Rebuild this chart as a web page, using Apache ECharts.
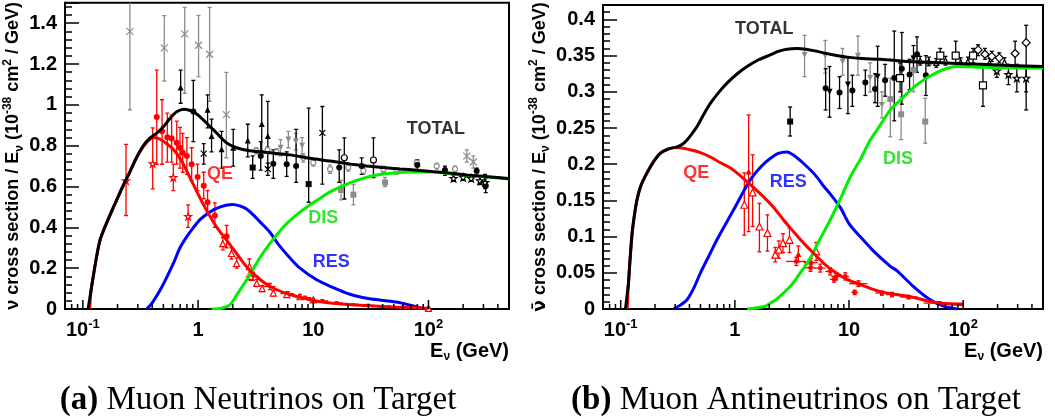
<!DOCTYPE html>
<html>
<head>
<meta charset="utf-8">
<script src="https://cdn.jsdelivr.net/npm/echarts@6/dist/echarts.min.js"></script>
<style>
  html, body { margin: 0; padding: 0; background: #ffffff; }
  #chart { width: 1055px; height: 419px; }
</style>
</head>
<body>
<div id="chart"></div>
<script>
// ---- shared energy axis (GeV, log scale) ----
const xMin = 0.07;
const xMax = 500;
const xMajorTicks = [0.1, 1, 10, 100];
const xMinorTicks = [0.08, 0.09, 0.2, 0.3, 0.4, 0.5, 0.6, 0.7, 0.8, 0.9,
  2, 3, 4, 5, 6, 7, 8, 9, 20, 30, 40, 50, 60, 70, 80, 90, 200, 300, 400];

// ---- neutrino panel: model curves, [E, sigma/E] ----
const nuTotal = [[0.111,0],[0.117,0.08],[0.123,0.158],[0.131,0.25],[0.141,0.337],[0.155,0.40],
  [0.172,0.46],[0.197,0.535],[0.224,0.605],[0.256,0.672],[0.293,0.742],[0.335,0.80],[0.383,0.838],
  [0.438,0.862],[0.50,0.893],[0.57,0.933],[0.653,0.966],[0.755,0.979],[0.881,0.97],[1.0,0.95],
  [1.19,0.91],[1.45,0.862],[1.77,0.814],[2.16,0.79],[2.82,0.775],[4.22,0.765],[6.28,0.755],
  [9.37,0.738],[14,0.725],[20.5,0.711],[29,0.701],[40,0.693],[56.6,0.686],[80,0.68],[110,0.673],
  [150,0.666],[215,0.657],[300,0.65],[400,0.644],[500,0.639]];
const nuQE = [[0.115,0],[0.117,0.08],[0.123,0.158],[0.131,0.25],[0.141,0.337],[0.155,0.40],
  [0.172,0.46],[0.197,0.535],[0.224,0.605],[0.256,0.672],[0.293,0.742],[0.335,0.795],[0.37,0.825],
  [0.409,0.84],[0.45,0.836],[0.50,0.822],[0.61,0.782],[0.72,0.725],[0.851,0.644],[1.0,0.563],
  [1.19,0.482],[1.45,0.401],[1.77,0.337],[2.16,0.272],[2.64,0.207],[3.23,0.158],[4.22,0.11],
  [5.88,0.076],[9.37,0.045],[14,0.029],[20,0.022],[29,0.017],[45,0.011],[65,0.007],[100,0.004]];
const nuRES = [[0.358,0],[0.40,0.03],[0.47,0.094],[0.54,0.16],[0.61,0.223],[0.697,0.30],[0.80,0.355],
  [0.90,0.395],[1.05,0.44],[1.25,0.473],[1.45,0.493],[1.75,0.508],[2.0,0.512],[2.3,0.505],[2.64,0.49],
  [3.0,0.462],[3.45,0.427],[4.22,0.375],[5.0,0.315],[6.28,0.25],[7.67,0.2],[10.7,0.143],[14.9,0.105],
  [20.8,0.072],[29,0.053],[40.6,0.042],[56.6,0.031],[74,0.015],[90,0.002]];
const nuDIS = [[1.31,0],[1.6,0.004],[1.89,0.02],[2.16,0.068],[2.45,0.115],[2.82,0.168],[3.2,0.222],
  [3.6,0.268],[4.2,0.32],[4.8,0.362],[5.8,0.415],[7.2,0.462],[8.8,0.5],[10.7,0.531],[14,0.574],
  [20.8,0.618],[27,0.64],[35.6,0.656],[50,0.666],[70,0.671],[100,0.671],[150,0.664],[215,0.655],
  [300,0.648],[400,0.642],[500,0.637]];

// ---- neutrino panel: measurements, [E, value, low, high, (E low, E high)] ----
const nuGrayCross = [[0.256,1.36,0.976,1.6],[0.509,1.279,1.117,1.437],[0.766,1.348,1.057,1.478],
  [1.01,1.292,1.138,1.438],[1.26,1.248,1.017,1.478],[1.76,0.952,0.741,1.159],
  [215,0.749,0.72,0.78,170,275],[245,0.72,0.69,0.75,200,300]];
const nuGrayTriDown = [[5.2,0.79,0.75,0.83],[6.08,0.83,0.79,0.87],[7.06,0.82,0.78,0.86],[8.0,0.80,0.76,0.84]];
const nuGraySquare = [[17.4,0.583,0.535,0.63],[22.3,0.56,0.51,0.61],[42,0.62,0.60,0.645]];
const nuGrayOpen = [[3.2,0.775,0.76,0.79],[4.0,0.78,0.765,0.795],[4.8,0.77,0.755,0.785],
  [8.2,0.741,0.72,0.76],[10,0.717,0.70,0.735],[14,0.685,0.665,0.705],[20.1,0.693,0.675,0.71],
  [27.2,0.677,0.66,0.695],[40.6,0.685,0.67,0.70],[53,0.677,0.66,0.69],[79,0.717,0.70,0.73],
  [118,0.70,0.685,0.715],[170,0.686,0.67,0.70]];
const nuBlackTri = [[0.706,1.085,1.008,1.170],[1.21,0.976,0.887,1.049],[1.31,0.847,0.77,0.93],
  [1.60,0.782,0.69,0.87],[2.02,0.79,0.70,0.88],[2.70,0.826,0.745,0.905],[3.57,0.906,0.774,1.049],
  [4.03,0.847,0.693,1.017]];
const nuBlackCircle = [[0.91,0.968,0.82,1.12],[3.5,0.749,0.68,0.82],[4.5,0.712,0.64,0.78],
  [5.88,0.709,0.65,0.77],[7.1,0.70,0.62,0.88],[16.8,0.693,0.62,0.78],[26.3,0.70,0.66,0.74],
  [80,0.706,0.68,0.73],[139,0.681,0.655,0.70],[262,0.676,0.65,0.69],[314,0.604,0.57,0.64]];
const nuBlackSquare = [[2.98,0.693,0.64,0.75],[9.12,0.612,0.523,0.984]];
const nuBlackCross = [[1.12,0.761,0.71,0.81],[4.03,0.685,0.655,0.715],[12,0.863,0.612,0.992]];
const nuBlackOpen = [[18.6,0.741,0.539,0.838],[33.3,0.73,0.644,0.838]];
const nuBlackStar = [[165,0.64,0.625,0.655],[200,0.645,0.63,0.66],[235,0.64,0.625,0.655],
  [280,0.628,0.61,0.645],[310,0.62,0.59,0.66]];
const nuRedCircle = [[0.438,0.94,0.709,1.17],[0.487,0.871,0.709,1.025],[0.541,0.842,0.72,0.96],
  [0.59,0.835,0.72,0.95],[0.653,0.814,0.71,0.92],[0.697,0.79,0.69,0.89],[0.736,0.765,0.67,0.86],
  [0.80,0.749,0.66,0.84],[0.88,0.709,0.63,0.79],[0.99,0.647,0.58,0.71],[1.12,0.604,0.54,0.67],
  [1.21,0.523,0.47,0.58],[1.40,0.458,0.40,0.52],[1.77,0.356,0.30,0.41]];
const nuRedStar = [[0.237,0.628,0.458,0.806],[0.404,0.712,0.588,0.887],[0.61,0.644,0.58,0.71],
  [0.82,0.453,0.40,0.51]];
const nuRedTri = [[1.64,0.32,0.29,0.35],[1.95,0.272,0.245,0.30],[2.16,0.223,0.20,0.25],
  [2.79,0.207,0.17,0.245],[2.85,0.16,0.14,0.18],[3.23,0.126,0.11,0.145],[3.6,0.1,0.085,0.115],
  [4.5,0.078,0.065,0.09],[5.9,0.07,0.06,0.08],[7.67,0.06,0.05,0.07],[10,0.045,0.038,0.052],
  [100,0.003,0.001,0.005]];
const nuRedCross = [[3.0,0.16,0.14,0.18,2.6,3.4],[4.2,0.11,0.095,0.125,3.7,4.7],[6,0.075,0.065,0.085,5.2,6.8],
  [8.5,0.055,0.047,0.063,7.4,9.6],[12,0.04,0.034,0.046,10.5,13.5],[16,0.03,0.025,0.035,14,18],
  [22,0.022,0.018,0.026,19,25],[30,0.018,0.014,0.022,26,34],[45,0.012,0.009,0.015,40,50],
  [60,0.009,0.006,0.012,52,68],[80,0.006,0.004,0.008,70,90]];

// ---- antineutrino panel: model curves ----
const nubTotal = [[0.110,0],[0.113,0.015],[0.117,0.036],[0.121,0.07],[0.126,0.105],[0.132,0.13],
  [0.139,0.151],[0.150,0.17],[0.170,0.188],[0.195,0.204],[0.222,0.215],[0.26,0.221],[0.311,0.224],
  [0.35,0.228],[0.381,0.2335],[0.42,0.242],[0.466,0.252],[0.53,0.268],[0.61,0.284],[0.72,0.299],
  [0.853,0.312],[1.05,0.325],[1.28,0.335],[1.6,0.344],[2.04,0.351],[2.4,0.356],[2.86,0.359],
  [3.5,0.360],[4.2,0.359],[4.89,0.357],[6.84,0.352],[9.6,0.348],[13,0.346],[18.8,0.345],
  [36.7,0.3415],[100,0.339],[200,0.337],[500,0.335]];
const nubQE = [[0.114,0],[0.117,0.036],[0.121,0.07],[0.126,0.105],[0.132,0.13],[0.139,0.151],
  [0.150,0.17],[0.170,0.188],[0.195,0.204],[0.222,0.215],[0.26,0.221],[0.311,0.223],[0.406,0.22],
  [0.5,0.216],[0.61,0.21],[0.75,0.202],[0.91,0.195],[1.08,0.186],[1.28,0.176],[1.5,0.166],
  [1.78,0.155],[2.2,0.14],[2.67,0.123],[3.3,0.106],[4.0,0.091],[4.9,0.077],[5.98,0.0635],
  [7.5,0.051],[9.6,0.041],[13,0.033],[18.8,0.024],[26,0.02],[36.7,0.016],[58.9,0.0085],[100,0.006]];
const nubRES = [[0.29,0],[0.33,0.005],[0.381,0.0128],[0.44,0.03],[0.50,0.05],[0.60,0.075],
  [0.697,0.0956],[0.975,0.137],[1.36,0.178],[1.7,0.197],[2.04,0.208],[2.4,0.215],[2.86,0.217],
  [3.3,0.212],[4.0,0.201],[5.0,0.186],[5.98,0.17],[7.0,0.157],[8.4,0.14],[10,0.118],[11.7,0.105],
  [13.4,0.095],[16.4,0.08],[23,0.059],[26.2,0.053],[36.7,0.031],[51.4,0.0128],[67.3,0.004],[88,0]];
const nubDIS = [[1.28,0],[1.78,0.003],[2.04,0.008],[2.34,0.014],[3.05,0.031],[3.6,0.046],[4.57,0.07],
  [5.5,0.095],[6.84,0.123],[8.4,0.152],[10.3,0.183],[12.5,0.206],[15.3,0.233],[17.5,0.247],
  [23,0.275],[26.2,0.284],[39.4,0.31],[58.9,0.327],[88,0.335],[150,0.334],[300,0.333],[500,0.333]];

// ---- antineutrino panel: measurements ----
const nubGrayTriDown = [[4.08,0.351,0.321,0.378],[6.19,0.350,0.326,0.371],[8.78,0.342,0.323,0.36],
  [11.97,0.350,0.323,0.377],[15.3,0.319,0.30,0.34],[19.4,0.282,0.264,0.30]];
const nubGraySquare = [[23,0.29,0.238,0.319],[28.6,0.269,0.234,0.293],[36.7,0.33,0.30,0.35],
  [46.5,0.259,0.229,0.291]];
const nubBlackCircle = [[6.24,0.305,0.275,0.332],[8.26,0.299,0.277,0.321],[10.7,0.302,0.28,0.323],
  [13.9,0.313,0.295,0.33],[16.9,0.304,0.285,0.325],[20.7,0.316,0.294,0.338],[24.9,0.319,0.26,0.384],
  [29,0.332,0.283,0.382],[33.9,0.324,0.303,0.345],[39.4,0.352,0.327,0.376],[47.1,0.323,0.295,0.35]];
const nubBlackTriDown = [[6.75,0.300,0.265,0.335],[9.78,0.310,0.27,0.348],[17.8,0.321,0.28,0.363],
  [36.7,0.346,0.328,0.364]];
const nubBlackSquare = [[3.05,0.259,0.239,0.279]];
const nubOpenSquare = [[28,0.319,0.30,0.34],[63,0.35,0.34,0.36],[86,0.35,0.335,0.37],
  [122,0.35,0.34,0.36],[149,0.309,0.28,0.335]];
const nubOpenDiamond = [[135,0.358,0.35,0.365],[155,0.352,0.345,0.36],[178,0.349,0.342,0.356],
  [207,0.347,0.34,0.354],[285,0.353,0.335,0.37],[356,0.368,0.275,0.392]];
const nubOpenStar = [[197,0.329,0.32,0.338],[249,0.324,0.31,0.338],[295,0.319,0.30,0.338],
  [356,0.319,0.30,0.335]];
const nubOpenTri = [[42,0.343,0.337,0.349],[50,0.342,0.336,0.348],[58,0.34,0.334,0.346],
  [70,0.343,0.337,0.349],[95,0.341,0.335,0.347],[110,0.342,0.336,0.348],[170,0.34,0.334,0.346],
  [230,0.341,0.335,0.347]];
const nubRedTriOpen = [[1.21,0.144,0.102,0.188],[1.43,0.161,0.114,0.213],[1.64,0.114,0.079,0.146],
  [1.93,0.105,0.08,0.13],[2.26,0.075,0.065,0.085],[2.43,0.082,0.07,0.094],[2.64,0.091,0.078,0.104],
  [3.01,0.0956,0.078,0.112],[5.16,0.0795,0.067,0.092]];
const nubRedTri = [[1.32,0.19,0.107,0.268],[3.6,0.076,0.065,0.087]];
const nubRedSquare = [[3.45,0.0657,0.06,0.071,2.8,4.2],[4.64,0.064,0.058,0.07,4.0,5.3],
  [4.6,0.057,0.052,0.062,4.1,5.1],[5.6,0.0565,0.051,0.062,5.0,6.2],[6.84,0.052,0.047,0.057,6.2,7.5],
  [7.73,0.045,0.04,0.05,7.0,8.5],[7.4,0.041,0.037,0.045,6.8,8.0],[9.27,0.045,0.04,0.05,8.5,10],
  [12.1,0.035,0.031,0.039,10,14.5],[11.2,0.023,0.02,0.026,10.5,12],[19.4,0.022,0.019,0.025,17,22],
  [23.8,0.02,0.017,0.023,21,27],[33.2,0.0165,0.014,0.019,28,40],[62,0.008,0.006,0.01,45,100]];

// ---- in-plot annotations [E, value, text, colour] ----
const nuTags = [[116, 0.88, 'TOTAL', '#000000'], [1.55, 0.662, 'QE', '#ff0000'],
  [12.2, 0.448, 'DIS', '#00dd00'], [14.3, 0.23, 'RES', '#0000ff']];
const nubTags = [[1.81, 0.3866, 'TOTAL', '#000000'], [0.459, 0.188, 'QE', '#ff0000'],
  [2.94, 0.1756, 'RES', '#0000ff'], [26.9, 0.2073, 'DIS', '#00dd00']];

// ---------------------------------------------------------------
const SANS = '"Liberation Sans", Arial, Helvetica, sans-serif';
const SERIF = '"Liberation Serif", "Times New Roman", serif';
const GRAY = '#8c8c8c';
const RED = '#ff0000';

const starPath = 'path://M5,0L6.2,3.6L10,3.6L7,5.9L8.1,9.6L5,7.3L1.9,9.6L3,5.9L0,3.6L3.8,3.6Z';
const crossPath = 'path://M0,0L10,10M10,0L0,10';

function errorBars(data, color, gi) {
  return {
    type: 'custom', xAxisIndex: gi, yAxisIndex: gi, clip: true, silent: true, z: 2,
    encode: { x: 0, y: 1 },
    data: data,
    renderItem: function (params, api) {
      const x = api.value(0), lo = api.value(2), hi = api.value(3);
      const xl = api.value(4), xh = api.value(5);
      const a = api.coord([x, lo]), b = api.coord([x, hi]);
      const st = { stroke: color, lineWidth: 1.3 };
      const cap = 2;
      const ch = [
        { type: 'line', shape: { x1: a[0], y1: a[1], x2: b[0], y2: b[1] }, style: st },
        { type: 'line', shape: { x1: a[0] - cap, y1: a[1], x2: a[0] + cap, y2: a[1] }, style: st },
        { type: 'line', shape: { x1: b[0] - cap, y1: b[1], x2: b[0] + cap, y2: b[1] }, style: st }
      ];
      if (isFinite(xl) && isFinite(xh) && xl > 0 && xh > 0) {
        const y = api.value(1);
        const l = api.coord([xl, y]), r = api.coord([xh, y]);
        ch.push({ type: 'line', shape: { x1: l[0], y1: l[1], x2: r[0], y2: r[1] }, style: st });
      }
      return { type: 'group', children: ch };
    }
  };
}

function markers(data, color, symbol, open, gi, size, rotate) {
  return {
    type: 'scatter', xAxisIndex: gi, yAxisIndex: gi, silent: true, z: 3,
    symbol: symbol, symbolSize: size || 6, symbolRotate: rotate || 0,
    data: data.map(function (d) { return [d[0], d[1]]; }),
    itemStyle: open
      ? { color: symbol === crossPath ? 'rgba(0,0,0,0)' : '#ffffff', borderColor: color, borderWidth: 1.2, opacity: 1 }
      : { color: color, borderWidth: 0, opacity: 1 }
  };
}

function group(data, color, symbol, open, gi, size, rotate) {
  return [errorBars(data, color, gi), markers(data, color, symbol, open, gi, size, rotate)];
}

function curve(data, color, gi, z) {
  return {
    type: 'line', xAxisIndex: gi, yAxisIndex: gi, data: data, showSymbol: false, silent: true,
    smooth: 0.3, clip: true, z: z,
    lineStyle: { color: color, width: 3 }
  };
}

function xTicks(gi) {
  const d = xMajorTicks.map(function (v) { return [v, 1]; })
    .concat(xMinorTicks.map(function (v) { return [v, 0]; }));
  return {
    type: 'custom', xAxisIndex: gi, yAxisIndex: gi, silent: true, z: 6, clip: false,
    encode: { x: 0 },
    data: d,
    renderItem: function (params, api) {
      const p = api.coord([api.value(0), 0]);
      const len = api.value(1) === 1 ? 9 : 5;
      return { type: 'line', shape: { x1: p[0], y1: p[1], x2: p[0], y2: p[1] - len },
        style: { stroke: '#000', lineWidth: 1.5 } };
    }
  };
}

function tags(list, gi) {
  return list.map(function (t) {
    return {
      type: 'scatter', xAxisIndex: gi, yAxisIndex: gi, silent: true, z: 8,
      symbolSize: 1, itemStyle: { color: 'rgba(0,0,0,0)' },
      data: [[t[0], t[1]]],
      label: { show: true, position: 'inside', formatter: t[2], color: t[3],
        fontFamily: SANS, fontWeight: 'bold', fontSize: 18 }
    };
  });
}

function xAxisCfg(gi) {
  return {
    type: 'log', logBase: 10, gridIndex: gi, min: xMin, max: xMax,
    axisLine: { show: false }, axisTick: { show: false }, minorTick: { show: false },
    splitLine: { show: false },
    name: '{t|E}{sub|ν}{t| (GeV)}', nameLocation: 'end', nameGap: 0,
    nameTextStyle: {
      align: 'right', verticalAlign: 'top', padding: [30, 0, 0, 0],
      rich: {
        t: { fontFamily: SANS, fontWeight: 'bold', fontSize: 20, color: '#000', lineHeight: 24, verticalAlign: 'middle' },
        sub: { fontFamily: SANS, fontWeight: 'bold', fontSize: 12, color: '#000', lineHeight: 12, verticalAlign: 'bottom' }
      }
    },
    axisLabel: {
      interval: 0, margin: 9, color: '#000',
      formatter: function (v) {
        const e = Math.log10(v), r = Math.round(e);
        if (Math.abs(e - r) > 1e-6) return '';
        if (r === 0) return '{b|1}';
        if (r === 1) return '{b|10}';
        return '{b|10}{s|' + r + '}';
      },
      rich: {
        b: { fontFamily: SANS, fontWeight: 'bold', fontSize: 20, color: '#000', lineHeight: 24, verticalAlign: 'middle' },
        s: { fontFamily: SANS, fontWeight: 'bold', fontSize: 13, color: '#000', lineHeight: 13, verticalAlign: 'top' }
      }
    }
  };
}

function yAxisCfg(gi, max, step, title, gap) {
  return {
    type: 'value', gridIndex: gi, min: 0, max: max, interval: step,
    axisLine: { show: false },
    axisTick: { show: true, inside: true, length: 14, lineStyle: { color: '#000', width: 1.5 } },
    minorTick: { show: true, splitNumber: 5, length: 7, lineStyle: { color: '#000', width: 1.5 } },
    splitLine: { show: false },
    axisLabel: { showMaxLabel: false, margin: 8, color: '#000', fontFamily: SANS, fontWeight: 'bold', fontSize: 20 },
    name: title, nameLocation: 'middle', nameGap: gap,
    nameTextStyle: {
      rich: {
        t: { fontFamily: SANS, fontWeight: 'bold', fontSize: 18, color: '#000', lineHeight: 24, verticalAlign: 'middle' },
        nb: { fontFamily: '"DejaVu Sans", sans-serif', fontWeight: 'bold', fontSize: 17, color: '#000', lineHeight: 24, verticalAlign: 'middle' },
        sub: { fontFamily: SANS, fontWeight: 'bold', fontSize: 12, color: '#000', lineHeight: 12, verticalAlign: 'bottom' },
        sup: { fontFamily: SANS, fontWeight: 'bold', fontSize: 12, color: '#000', lineHeight: 12, verticalAlign: 'top' }
      }
    }
  };
}

const nuTitle = '{t|ν cross section / E}{sub|ν}{t| (10}{sup|-38}{t| cm}{sup|2}{t| / GeV)}';
const nubTitle = '{nb|ν\u0304}{t| cross section / E}{sub|ν}{t| (10}{sup|-38}{t| cm}{sup|2}{t| / GeV)}';

const series = [].concat(
  xTicks(0), xTicks(1),
  // neutrino measurements
  group(nuGrayCross, GRAY, crossPath, true, 0, 7),
  group(nuGrayTriDown, GRAY, 'triangle', false, 0, 6, 180),
  group(nuGraySquare, GRAY, 'rect', false, 0, 6),
  group(nuGrayOpen, GRAY, 'circle', true, 0, 5),
  group(nuBlackTri, '#000', 'triangle', false, 0, 6),
  group(nuBlackCircle, '#000', 'circle', false, 0, 6),
  group(nuBlackSquare, '#000', 'rect', false, 0, 6),
  group(nuBlackCross, '#000', crossPath, true, 0, 6),
  group(nuBlackOpen, '#000', 'circle', true, 0, 6),
  group(nuBlackStar, '#000', starPath, true, 0, 7),
  group(nuRedCross, RED, 'rect', false, 0, 3),
  group(nuRedTri, RED, 'triangle', true, 0, 6),
  group(nuRedStar, RED, starPath, true, 0, 7),
  group(nuRedCircle, RED, 'circle', false, 0, 6),
  // antineutrino measurements
  group(nubGrayTriDown, GRAY, 'triangle', false, 1, 6, 180),
  group(nubGraySquare, GRAY, 'rect', false, 1, 6),
  group(nubBlackCircle, '#000', 'circle', false, 1, 6),
  group(nubBlackTriDown, '#000', 'triangle', false, 1, 6, 180),
  group(nubBlackSquare, '#000', 'rect', false, 1, 6),
  group(nubOpenSquare, '#000', 'rect', true, 1, 7),
  group(nubOpenDiamond, '#000', 'diamond', true, 1, 8),
  group(nubOpenStar, '#000', starPath, true, 1, 7),
  group(nubOpenTri, '#000', 'triangle', true, 1, 5),
  group(nubRedSquare, RED, 'rect', false, 1, 4),
  group(nubRedTriOpen, RED, 'triangle', true, 1, 7),
  group(nubRedTri, RED, 'triangle', false, 1, 6),
  // model curves
  curve(nuRES, '#0000ff', 0, 4), curve(nuDIS, '#00ee00', 0, 4), curve(nuQE, RED, 0, 5), curve(nuTotal, '#000', 0, 5),
  curve(nubRES, '#0000ff', 1, 4), curve(nubDIS, '#00ee00', 1, 4), curve(nubQE, RED, 1, 5), curve(nubTotal, '#000', 1, 5),
  tags(nuTags, 0), tags(nubTags, 1)
);

function caption(x, tag, text) {
  return { type: 'text', x: x, y: 400, silent: true,
    style: { text: '{b|' + tag + '} {r|' + text + '}', align: 'center', verticalAlign: 'middle',
      rich: { b: { fontFamily: SERIF, fontWeight: 'bold', fontSize: 33, fill: '#000' },
              r: { fontFamily: SERIF, fontSize: 33, fill: '#000' } },
      fontFamily: SERIF, fontSize: 33, fill: '#000' } };
}

const chart = echarts.init(document.getElementById('chart'), null, { renderer: 'canvas' });
chart.setOption({
  animation: false,
  backgroundColor: '#ffffff',
  grid: [
    { left: 65, right: 546, top: 1, bottom: 110, show: true, borderColor: '#000', borderWidth: 2, backgroundColor: 'rgba(0,0,0,0)' },
    { left: 603, right: 12, top: 5, bottom: 110, show: true, borderColor: '#000', borderWidth: 2, backgroundColor: 'rgba(0,0,0,0)' }
  ],
  xAxis: [xAxisCfg(0), xAxisCfg(1)],
  yAxis: [yAxisCfg(0, 1.5, 0.2, nuTitle, 36), yAxisCfg(1, 0.42, 0.05, nubTitle, 46)],
  graphic: [
    caption(258, '(a)', 'Muon Neutrinos on Target'),
    caption(796, '(b)', 'Muon Antineutrinos on Target')
  ],
  series: series
});
</script>
</body>
</html>
